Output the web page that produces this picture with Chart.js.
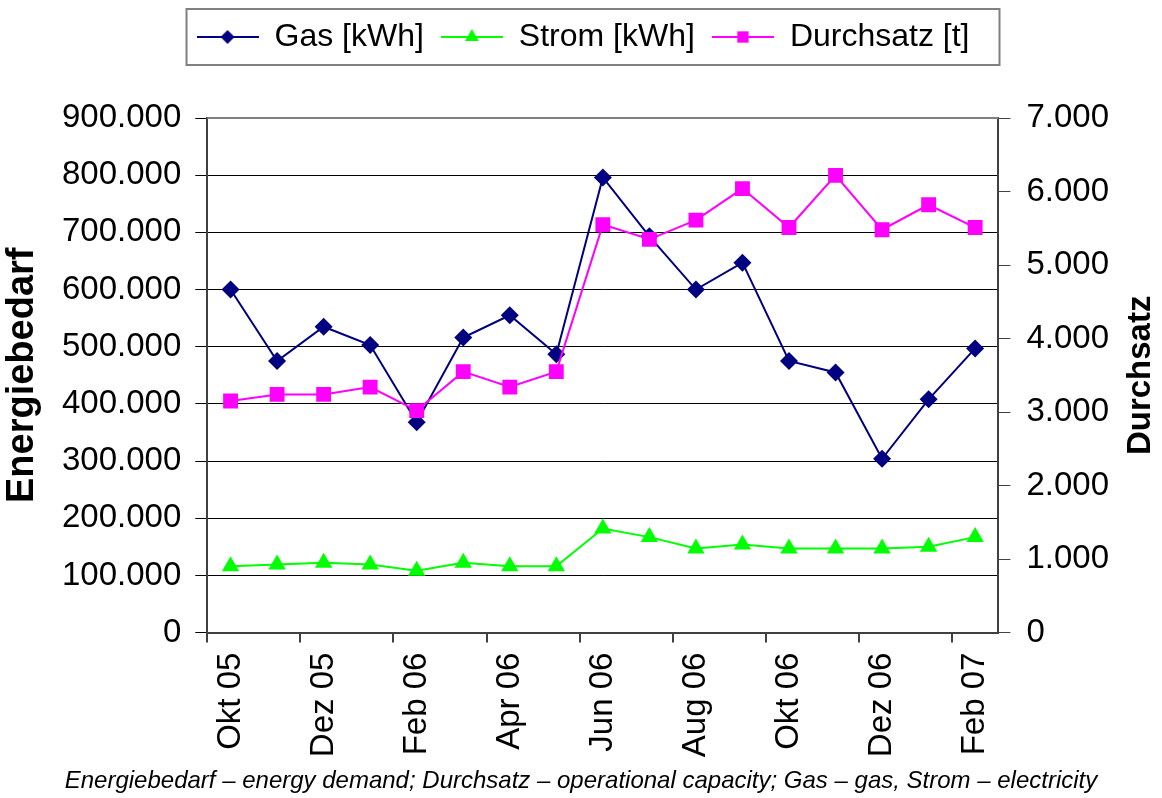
<!DOCTYPE html>
<html lang="de">
<head>
<meta charset="utf-8">
<title>Energiebedarf und Durchsatz</title>
<script src="https://cdn.jsdelivr.net/npm/chart.js@4.4.1/dist/chart.umd.min.js"></script>
<style>
  html, body { margin: 0; padding: 0; background: #fff; }
  #wrap { width: 1162px; height: 798px; }
</style>
</head>
<body>
<div id="wrap"><canvas id="energy-chart" width="1162" height="798"></canvas></div>
<script>
// Monatswerte Okt 05 - Feb 07
const months = ['Okt 05', 'Nov 05', 'Dez 05', 'Jan 06', 'Feb 06', 'Mrz 06', 'Apr 06', 'Mai 06', 'Jun 06',
  'Jul 06', 'Aug 06', 'Sep 06', 'Okt 06', 'Nov 06', 'Dez 06', 'Jan 07', 'Feb 07'];
const gasKwh = [600000, 475000, 535000, 503000, 368000, 516000, 555000, 487000, 796000,
  693000, 600000, 647000, 475000, 455000, 304000, 408000, 497000];
const stromKwh = [116000, 119000, 122000, 119000, 108000, 122000, 116000, 116000, 182000,
  167000, 147000, 154000, 147000, 147000, 147000, 150000, 167000];
const durchsatzT = [3150, 3240, 3240, 3340, 3020, 3550, 3340, 3550, 5550,
  5350, 5610, 6040, 5510, 6220, 5480, 5820, 5510];
const seriesNames = ['Gas [kWh]', 'Strom [kWh]', 'Durchsatz [t]'];
const energyAxis = { min: 0, max: 900000, step: 100000 };
const durchsatzAxis = { min: 0, max: 7000, step: 1000 };
const leftTitle = 'Energiebedarf';
const rightTitle = 'Durchsatz';
const captionText = 'Energiebedarf \u2013 energy demand; Durchsatz \u2013 operational capacity; Gas \u2013 gas, Strom \u2013 electricity';

const FONT = "'Liberation Sans', Arial, sans-serif";
const NAVY = '#000080';
const GREEN = '#00ff00';
const MAGENTA = '#ff00ff';

function germanNumber(v) {
  return String(Math.round(v)).replace(/\B(?=(\d{3})+(?!\d))/g, '.');
}

// small line+marker picture for the legend
function legendSwatch(color, style, radius) {
  const c = document.createElement('canvas');
  c.width = 62;
  c.height = 24;
  const ctx = c.getContext('2d');
  ctx.strokeStyle = color;
  ctx.lineWidth = 2;
  ctx.beginPath();
  ctx.moveTo(0, 12);
  ctx.lineTo(62, 12);
  ctx.stroke();
  ctx.fillStyle = color;
  Chart.helpers.drawPoint(ctx, { pointStyle: style, radius: radius, borderWidth: 0, rotation: 0 }, 31, 12);
  return c;
}

const swatches = [
  legendSwatch(NAVY, 'rectRot', 7),
  legendSwatch(GREEN, 'triangle', 8),
  legendSwatch(MAGENTA, 'rect', 8)
];

const legendSpace = {
  id: 'legendSpace',
  beforeInit(chart) {
    const origFit = chart.legend.fit;
    chart.legend.fit = function fit() {
      origFit.bind(chart.legend)();
      this.height += 55;
    };
  },
  afterLayout(chart) {
    // legend sits a little right of the canvas centre
    chart.legend.left += 4;
  }
};

const frames = {
  id: 'frames',
  afterDraw(chart) {
    const ctx = chart.ctx;
    const area = chart.chartArea;
    ctx.save();
    // top edge of the plot
    ctx.strokeStyle = '#808080';
    ctx.lineWidth = 2;
    ctx.beginPath();
    ctx.moveTo(area.left, area.top);
    ctx.lineTo(area.right, area.top);
    ctx.stroke();
    // box round the legend
    const boxes = chart.legend.legendHitBoxes;
    if (boxes && boxes.length) {
      const left = Math.min(...boxes.map(b => b.left)) - 10;
      const right = Math.max(...boxes.map(b => b.left + b.width)) + 30;
      const top = boxes[0].top - 12;
      const h = boxes[0].height + 24;
      ctx.strokeStyle = '#808080';
      ctx.lineWidth = 2;
      ctx.strokeRect(left, top, right - left, h);
    }
    // right axis title, reading bottom to top
    ctx.translate(chart.width - 21, (area.top + area.bottom) / 2);
    ctx.rotate(-Math.PI / 2);
    ctx.fillStyle = '#000';
    ctx.font = 'bold 33px ' + FONT;
    ctx.textAlign = 'center';
    ctx.textBaseline = 'middle';
    ctx.fillText(rightTitle, 0, 0);
    ctx.restore();
  }
};

new Chart(document.getElementById('energy-chart'), {
  type: 'line',
  data: {
    labels: months,
    datasets: [{
      label: seriesNames[0],
      data: gasKwh,
      yAxisID: 'y',
      borderColor: NAVY,
      backgroundColor: NAVY,
      borderWidth: 2,
      pointStyle: 'rectRot',
      pointRadius: 9,
      pointBorderWidth: 0,
      order: 2
    }, {
      label: seriesNames[1],
      data: stromKwh,
      yAxisID: 'y',
      borderColor: GREEN,
      backgroundColor: GREEN,
      borderWidth: 2,
      pointStyle: 'triangle',
      pointRadius: 10,
      pointBorderWidth: 0,
      order: 1
    }, {
      label: seriesNames[2],
      data: durchsatzT,
      yAxisID: 'y2',
      borderColor: MAGENTA,
      backgroundColor: MAGENTA,
      borderWidth: 2,
      pointStyle: 'rect',
      pointRadius: 10.5,
      pointBorderWidth: 0,
      order: 0
    }]
  },
  options: {
    responsive: false,
    animation: false,
    tension: 0,
    layout: { padding: { left: 0, right: 0, top: 4, bottom: 0 } },
    plugins: {
      legend: {
        position: 'top',
        labels: {
          usePointStyle: true,
          pointStyleWidth: 62,
          padding: 17,
          color: '#000',
          font: { family: FONT, size: 32 },
          generateLabels(chart) {
            const items = Chart.defaults.plugins.legend.labels.generateLabels(chart);
            items.sort((a, b) => a.datasetIndex - b.datasetIndex);
            items.forEach(it => { it.pointStyle = swatches[it.datasetIndex]; });
            return items;
          }
        }
      },
      title: {
        display: true,
        position: 'bottom',
        text: captionText,
        color: '#000',
        font: { family: FONT, size: 24, style: 'italic', weight: 'normal' },
        padding: { top: 0, bottom: 2 }
      },
      tooltip: { enabled: false }
    },
    scales: {
      x: {
        offset: true,
        grid: {
          offset: true,
          drawOnChartArea: false,
          tickLength: 10,
          lineWidth: 2,
          color: ctx => (ctx.index !== undefined && ctx.index % 2 === 0) ? '#404040' : 'rgba(0,0,0,0)'
        },
        border: { color: '#404040', width: 2 },
        ticks: {
          autoSkip: false,
          minRotation: 90,
          maxRotation: 90,
          padding: 10,
          color: '#000',
          font: { family: FONT, size: 33 },
          callback: (v, i) => (i % 2 === 0 ? months[i] : '')
        }
      },
      y: {
        position: 'left',
        min: energyAxis.min,
        max: energyAxis.max,
        grid: { color: '#000', lineWidth: 1, tickLength: 12 },
        border: { color: '#404040', width: 2 },
        ticks: {
          stepSize: energyAxis.step,
          padding: 14,
          color: '#000',
          font: { family: FONT, size: 33 },
          callback: v => germanNumber(v)
        },
        title: {
          display: true,
          text: leftTitle,
          color: '#000',
          font: { family: FONT, size: 38, weight: 'bold', lineHeight: 1 },
          padding: { top: 4, bottom: 6 }
        }
      },
      y2: {
        position: 'right',
        min: durchsatzAxis.min,
        max: durchsatzAxis.max,
        grid: { drawOnChartArea: false, color: '#404040', tickLength: 12 },
        border: { color: '#404040', width: 2 },
        ticks: {
          stepSize: durchsatzAxis.step,
          padding: 16,
          color: '#000',
          font: { family: FONT, size: 33 },
          callback: v => germanNumber(v)
        },
        afterFit(scale) {
          // room for the hand-drawn axis title
          scale.width += 37;
        }
      }
    }
  },
  plugins: [legendSpace, frames]
});
</script>
</body>
</html>
